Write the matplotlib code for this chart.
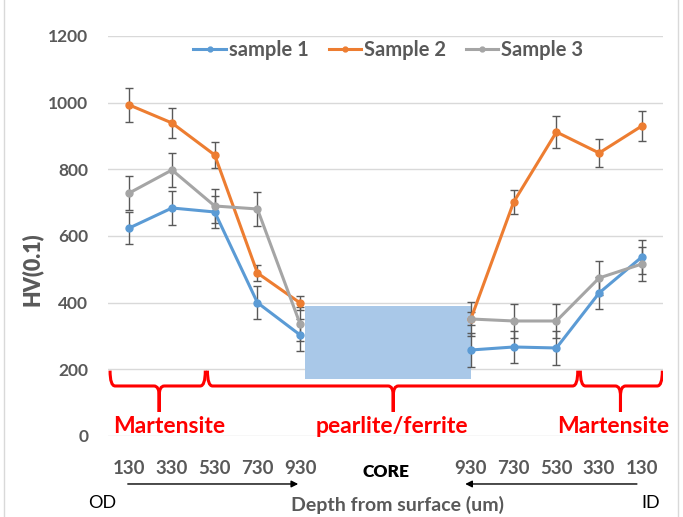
import matplotlib
matplotlib.use("Agg")
import matplotlib.pyplot as plt
from matplotlib.path import Path
import matplotlib.patches as patches
from matplotlib.lines import Line2D
import numpy as np

plt.rcParams['font.family'] = ['Lato', 'DejaVu Sans']
plt.rcParams['font.weight'] = 'bold'

# data
depth_labels = ['130', '330', '530', '730', '930', '930', '730', '530', '330', '130']
positions = [0, 1, 2, 3, 4, 8, 9, 10, 11, 12]

sample1 = [624, 684, 672, 400, 303, 258, 267, 264, 429, 537]
sample1_err = [48, 50, 48, 50, 48, 50, 48, 50, 48, 50]
sample2 = [993, 939, 843, 489, 399, 352, 702, 912, 849, 930]
sample2_err = [50, 46, 40, 25, 22, 20, 36, 47, 42, 46]
sample3 = [729, 798, 690, 681, 336, 351, 345, 345, 474, 516]
sample3_err = [50, 50, 50, 50, 50, 50, 50, 50, 50, 50]

series_names = ['sample 1', 'Sample 2', 'Sample 3']
series_colors = ['#5b9bd5', '#ed7d31', '#a5a5a5']

# core zone (shaded) and microstructure zones (brace start, end, tip, label x)
core_x = (4.12, 7.99)
core_y = (170, 390)
zones = [('Martensite', -0.45, 1.78, 0.7, 0.93),
         ('pearlite/ferrite', 1.83, 10.5, 6.18, 6.16),
         ('Martensite', 10.56, 12.48, 11.5, 11.32)]

TXT = '#595959'

fig = plt.figure(figsize=(6.83, 5.17), dpi=100)
ax = fig.add_axes([0.158, 0.1567, 0.813, 0.7737])

ax.add_patch(patches.Rectangle((core_x[0], core_y[0]), core_x[1] - core_x[0],
                               core_y[1] - core_y[0], facecolor='#a9c8e8',
                               edgecolor='none', zorder=1))

all_data = [(sample1, sample1_err), (sample2, sample2_err), (sample3, sample3_err)]
handles = []
for (vals, errs), name, col in zip(all_data, series_names, series_colors):
    for sl in (slice(0, 5), slice(5, 10)):
        ax.errorbar(positions[sl], vals[sl], yerr=errs[sl], color=col, marker='o',
                    markersize=5, linewidth=2.2, ecolor='#595959', elinewidth=1,
                    capsize=3, capthick=1, zorder=3)
    handles.append(Line2D([], [], color=col, marker='o', markersize=3.5,
                          linewidth=2.2, label=name))

# braces
def draw_brace(ax, x0, x1, xm, ytop=196, ymid=150, ybot=72, dx=0.12):
    verts = [(x0, ytop), (x0, ymid), (x0 + dx, ymid),
             (xm - dx, ymid), (xm, ymid), (xm, ymid - 30),
             (xm, ybot), (xm, ymid - 30), (xm, ymid), (xm + dx, ymid),
             (x1 - dx, ymid), (x1, ymid), (x1, ytop)]
    codes = [Path.MOVETO, Path.CURVE3, Path.CURVE3,
             Path.LINETO, Path.CURVE3, Path.CURVE3,
             Path.LINETO, Path.LINETO, Path.CURVE3, Path.CURVE3,
             Path.LINETO, Path.CURVE3, Path.CURVE3]
    ax.add_patch(patches.PathPatch(Path(verts, codes), facecolor='none',
                                   edgecolor='red', linewidth=2.2, zorder=2))

for name, x0, x1, xm, xt in zones:
    draw_brace(ax, x0, x1, xm)
    ax.text(xt, 28, name, color='red', fontsize=16.5, fontweight='bold',
            ha='center', va='center', zorder=4)

ax.set_xlim(-0.5, 12.5)
ax.set_ylim(0, 1200)
ax.set_yticks(range(0, 1201, 200))
ax.set_xticks(positions)
ax.set_xticklabels(depth_labels)
ax.tick_params(axis='x', length=0, pad=17, labelsize=13.5, labelcolor=TXT)
ax.tick_params(axis='y', length=0, pad=14, labelsize=12.5, labelcolor=TXT)
ax.grid(axis='y', color='#d9d9d9', linewidth=1)
ax.set_axisbelow(True)
for s in ax.spines.values():
    s.set_visible(False)

ax.set_ylabel('HV(0.1)', fontsize=15.5, fontweight='heavy', color=TXT)
ax.yaxis.set_label_coords(-0.118, 0.4175)

tr = ax.get_xaxis_transform()
ax.text(6, -0.09, 'CORE', transform=tr, ha='center', va='center',
        fontsize=12.5, fontweight='heavy', color='black')
ax.annotate('', xy=(4.02, -0.12), xytext=(-0.1, -0.12), xycoords=tr, textcoords=tr,
            arrowprops=dict(arrowstyle='-|>', color='black', lw=1, mutation_scale=10))
ax.annotate('', xy=(7.8, -0.12), xytext=(11.95, -0.12), xycoords=tr, textcoords=tr,
            arrowprops=dict(arrowstyle='-|>', color='black', lw=1, mutation_scale=10))
ax.text(-0.63, -0.167, 'OD', transform=tr, ha='center', va='center',
        fontsize=13, fontweight='normal', color='black')
ax.text(12.2, -0.167, 'ID', transform=tr, ha='center', va='center',
        fontsize=13, fontweight='normal', color='black')
ax.text(6.28, -0.172, 'Depth from surface (um)', transform=tr, ha='center',
        va='center', fontsize=14, fontweight='bold', color=TXT)

leg = ax.legend(handles=handles, loc='center', bbox_to_anchor=(0.505, 0.965), ncol=3,
                frameon=False, fontsize=14.5, handlelength=1.6, handletextpad=0.15,
                columnspacing=1.0)
for t in leg.get_texts():
    t.set_color(TXT)
    t.set_fontweight('bold')

# chart area border (left/right)
fig.add_artist(Line2D([0.006, 0.006], [0, 1], color='#d9d9d9', lw=1))
fig.add_artist(Line2D([0.993, 0.993], [0, 1], color='#d9d9d9', lw=1))

fig.savefig('out.png', dpi=100)
